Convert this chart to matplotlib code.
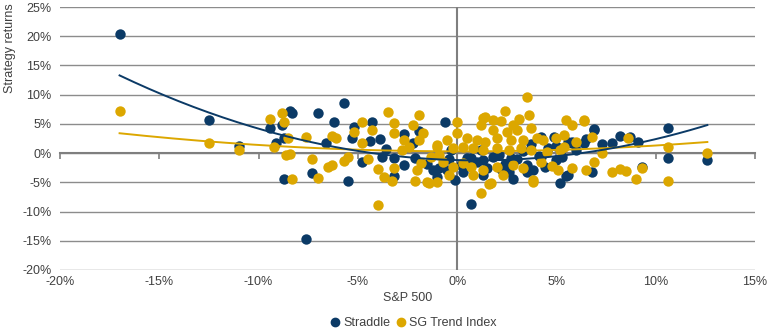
#!/usr/bin/env python3
"""Streudiagramm: Straddle und SG Trend Index gegen S&P 500 Monatsrenditen."""

import numpy as np
import matplotlib

matplotlib.use("Agg")
import matplotlib.pyplot as plt
from matplotlib.lines import Line2D
from matplotlib.ticker import FuncFormatter

matplotlib.rcParams["font.family"] = ["Liberation Sans", "DejaVu Sans"]

NAVY = "#0b3a66"
GOLD = "#dca700"
GRID = "#8c8c8c"
TEXT = "#404040"

# Straddle: S&P 500 Rendite (%) und Strategierendite (%)
straddle_x = [
    -17.0, -12.5, -11.0, -9.4, -9.1, -8.8, -8.7, -8.7, -8.4, -8.3,
    -7.6, -7.3, -7.0, -6.6, -6.2, -5.7, -5.5, -5.3, -5.2, -4.8,
    -4.4, -4.3, -3.9, -3.8, -3.6, -3.2, -3.2, -2.7, -2.7, -2.2,
    -2.1, -1.9, -1.5,
    -1.2, -1.0, -0.9, -0.6, -0.5, -0.4, -0.3, -0.1, 0.2, 0.3,
    0.5, 0.7, 0.7, 1.0, 1.2, 1.3, 1.3, 1.5, 1.8, 2.1,
    2.2, 2.4, 2.6, 2.7, 2.8, 3.0, 3.3, 3.5, 3.5, 3.7,
    3.8, 4.1, 4.2, 4.2, 4.4, 4.6, 4.9, 5.0, 5.0, 5.2,
    5.3, 5.5, 5.6, 5.6, 5.8, 5.8, 6.0,
    6.4, 6.5, 6.8, 6.9, 6.9, 7.3, 7.8, 8.2, 8.7, 9.1,
    9.3, 10.6, 10.6, 12.6,
]
straddle_y = [
    20.4, 5.6, 1.2, 4.3, 1.7, 4.8, 2.6, -4.5, 7.2, 6.8,
    -14.7, -3.4, 6.8, 1.7, 5.3, 8.6, -4.8, 2.6, 4.5, -1.5,
    2.1, 5.3, 2.4, -0.7, 0.7, -0.9, -3.9, 3.2, -2.1, 1.7,
    -0.9, 3.8, -1.8,
    -2.9, -4.1, -2.6, 5.3, -2.9, -1.0, 0.6, -4.6, -2.1, -3.3,
    -0.8, -8.7, -0.9, -1.5, 0.5, -3.8, -1.2, -2.6, -0.6, -0.3,
    -2.8, -1.9, -3.3, -0.9, -4.5, -1.0, 0.4, -3.3, -2.1, 1.6,
    -2.9, -0.5, -0.7, 2.7, -2.4, 0.8, 2.7, 1.2, -1.2, -5.1,
    -0.7, -3.9, -3.8, 1.9, 1.7, 1.9, 0.5,
    1.7, 2.4, -3.2, 4.1, 3.9, 1.5, 1.7, 2.9, 2.7, 1.9,
    -2.4, 4.3, -0.9, -1.1,
]

# SG Trend Index: S&P 500 Rendite (%) und Strategierendite (%)
trend_x = [
    -17.0, -12.5, -11.0, -9.4, -9.2, -8.8, -8.7, -8.6, -8.5, -8.4,
    -8.3, -7.6, -7.3, -7.0, -6.5, -6.3, -6.3, -6.1, -5.7, -5.5,
    -5.2, -4.8, -4.8, -4.5, -4.3, -4.0, -4.0, -3.7, -3.5, -3.3,
    -3.2, -3.2, -3.2, -2.8, -2.7, -2.4, -2.2, -2.1, -2.0, -1.9,
    -1.9, -1.8, -1.7, -1.5,
    -1.4, -1.3, -1.0, -1.0, -1.0, -0.9, -0.7, -0.5, -0.4, -0.2,
    -0.2, 0.0, 0.0, 0.3, 0.3, 0.5, 0.7, 0.8, 0.8, 1.0,
    1.2, 1.2, 1.3, 1.3, 1.3, 1.4, 1.4, 1.6, 1.7, 1.8,
    1.8, 2.0, 2.0, 2.0, 2.2, 2.3, 2.4, 2.5, 2.6, 2.7,
    2.8, 2.8, 3.0, 3.1, 3.2, 3.3, 3.3, 3.5, 3.6, 3.7,
    3.7, 3.8, 3.8, 4.0, 4.2, 4.3, 4.5, 4.8, 5.0, 5.1,
    5.2, 5.4, 5.4, 5.5, 5.8, 5.8, 6.0,
    6.4, 6.4, 6.5, 6.8, 6.9, 7.3, 7.8, 8.2, 8.5, 8.6,
    9.0, 9.3, 10.6, 10.6, 12.6,
]
trend_y = [
    7.2, 1.7, 0.5, 5.8, 1.0, 6.8, 5.3, -0.3, 2.6, -0.2,
    -4.5, 2.7, -1.0, -4.3, -2.4, 2.9, -2.1, 2.6, -1.4, -0.7,
    3.6, 5.3, 1.7, -1.0, 3.9, -2.7, -8.9, -4.1, 7.0, -4.8,
    5.1, 3.4, -2.6, 0.5, 2.2, 1.0, 4.8, -4.8, -2.9, 6.5,
    2.2, -1.7, 3.4, -5.0,
    -5.1, -0.7, 1.0, 1.4, -5.0, -0.3, -1.5, 2.2, -3.8, 0.9,
    -2.4, 5.3, 3.4, 1.0, -1.7, 2.6, -2.4, 0.9, -3.8, 2.2,
    4.8, -6.9, 6.0, 0.5, -2.9, 1.9, 6.2, -5.3, -5.1, 5.7,
    3.9, 2.6, 0.9, -2.4, 5.5, -3.8, 7.2, 3.6, 0.5, 2.2,
    4.8, -2.1, 3.9, 5.8, 0.9, 2.2, -2.6, 9.6, 6.5, 4.3,
    0.5, -4.6, -4.9, 2.6, -1.5, 2.2, 0.2, -2.2, 2.6, -2.9,
    0.5, 3.1, 1.0, 5.7, 4.8, -2.5, 1.9,
    5.7, 5.5, -2.9, 2.7, -1.5, 0.0, -3.2, -2.7, -3.1, 2.6,
    -4.5, -2.6, 1.0, -4.8, 0.0,
]

# Polynomtrendlinien 2. Ordnung (a*x^2 + b*x + c, x und y in %)
straddle_trend_coeffs = [0.0449, -0.0894, -1.2]
trend_trend_coeffs = [0.01045, -0.0047, 0.3]

x_ticks = [-20, -15, -10, -5, 0, 5, 10, 15]
y_ticks = [-20, -15, -10, -5, 0, 5, 10, 15, 20, 25]


def pct(v, _pos=None):
    return f"{v:.0f}%"


def trendline(x, coeffs):
    xs = np.linspace(min(x), max(x), 200)
    return xs, np.polyval(coeffs, xs)


fig = plt.figure(figsize=(7.7, 3.33), dpi=100)
ax = fig.add_axes([60 / 770, 1 - 270 / 333, 695 / 770, 263 / 333])

ax.set_xlim(x_ticks[0], x_ticks[-1])
ax.set_ylim(y_ticks[0], y_ticks[-1])
ax.set_yticks(y_ticks)
ax.set_xticks(x_ticks)
ax.yaxis.set_major_formatter(FuncFormatter(pct))
ax.grid(axis="y", color=GRID, linewidth=1.0)
ax.set_axisbelow(True)

for side in ["top", "right", "left"]:
    ax.spines[side].set_visible(False)
ax.spines["bottom"].set_position(("data", 0))
ax.spines["bottom"].set_color("#7f7f7f")
ax.spines["bottom"].set_linewidth(1.5)
ax.spines["bottom"].set_zorder(1)
ax.tick_params(axis="x", direction="out", length=4, width=1.2,
               color="#7f7f7f", labelbottom=False)
ax.tick_params(axis="y", length=0, labelsize=9, labelcolor=TEXT, pad=6)
ax.axvline(0, color="#7f7f7f", linewidth=1.5, zorder=1)

# Beschriftungen der x-Achse unten am Rand
sec = ax.secondary_xaxis(0.0)
sec.set_xticks(x_ticks)
sec.xaxis.set_major_formatter(FuncFormatter(pct))
sec.tick_params(length=0, labelsize=9, labelcolor=TEXT, pad=4)
sec.spines["bottom"].set_visible(False)
sec.set_xlabel("S&P 500", fontsize=9, color=TEXT, labelpad=3)

ax.scatter(straddle_x, straddle_y, s=56, color=NAVY, linewidths=0, zorder=3)
ax.scatter(trend_x, trend_y, s=56, color=GOLD, linewidths=0, zorder=4)

xs, ys = trendline(trend_x, trend_trend_coeffs)
ax.plot(xs, ys, color=GOLD, linewidth=1.4, zorder=5)
xs, ys = trendline(straddle_x, straddle_trend_coeffs)
ax.plot(xs, ys, color=NAVY, linewidth=1.4, zorder=6)

fig.text(10 / 770, 1 - 48 / 333, "Strategy returns", rotation=90,
         ha="center", va="center", fontsize=9, color=TEXT)

handles = [
    Line2D([], [], marker="o", linestyle="", color=NAVY, markersize=6, label="Straddle"),
    Line2D([], [], marker="o", linestyle="", color=GOLD, markersize=6, label="SG Trend Index"),
]
fig.legend(handles=handles, loc="center", bbox_to_anchor=(414 / 770, 1 - 323 / 333),
           ncol=2, frameon=False, fontsize=9, handlelength=0.6,
           handletextpad=0.3, columnspacing=0.6, labelcolor=TEXT)

fig.savefig("out.png", dpi=100)
